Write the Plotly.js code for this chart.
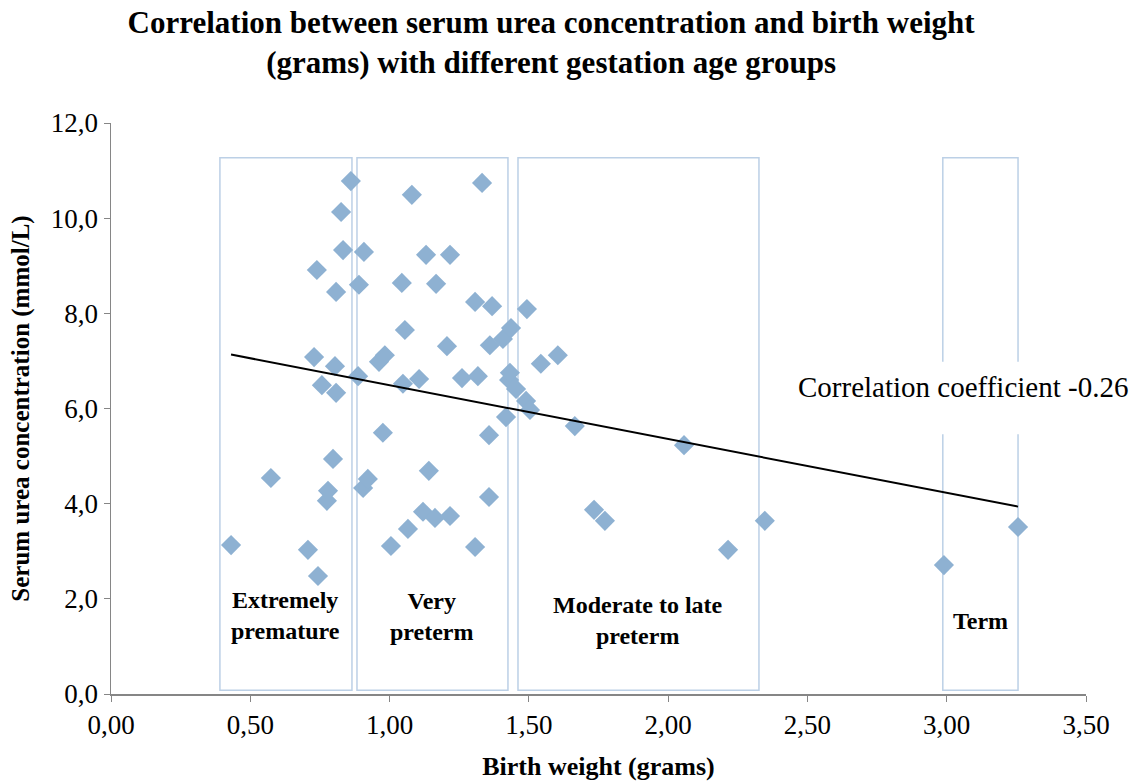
<!DOCTYPE html>
<html>
<head>
<meta charset="utf-8">
<script src="https://cdn.plot.ly/plotly-3.0.1.min.js"></script>
<style>html,body{margin:0;padding:0;background:#fff;}#chart{width:1141px;height:783px;}</style>
</head>
<body>
<div id="chart"></div>
<script>
// Birth weight (x) and serum urea (y)
const birthWeight = [0.431,0.574,0.707,0.743,0.739,0.729,0.757,0.775,0.779,0.797,0.808,0.808,0.804,0.826,0.833,0.861,0.887,0.890,0.908,0.905,0.922,0.962,0.983,0.976,1.005,1.048,1.044,1.055,1.066,1.080,1.106,1.120,1.131,1.141,1.163,1.167,1.206,1.217,1.217,1.260,1.307,1.307,1.317,1.332,1.357,1.360,1.357,1.368,1.407,1.418,1.429,1.432,1.436,1.454,1.490,1.493,1.504,1.543,1.604,1.665,1.734,1.773,2.057,2.215,2.347,2.990,3.256];
const serumUrea = [3.13,4.54,3.03,2.48,8.91,7.08,6.49,4.06,4.27,4.94,8.45,6.33,6.89,10.13,9.33,10.78,6.68,8.60,9.29,4.33,4.52,6.98,7.12,5.49,3.11,6.52,8.64,7.65,3.47,10.49,6.62,3.83,9.23,4.69,3.70,8.62,7.31,3.74,9.23,6.64,3.09,8.24,6.68,10.74,5.44,7.33,4.14,8.15,7.46,5.82,6.60,6.75,7.69,6.41,6.16,8.09,5.97,6.94,7.12,5.63,3.87,3.64,5.23,3.03,3.64,2.71,3.51];

// Gestation age groups (birth-weight ranges of the boxes)
const groupLabels = ["Extremely<br>premature","Very<br>preterm","Moderate to late<br>preterm","Term"];
const groupStart = [0.391,0.883,1.461,2.986];
const groupEnd   = [0.865,1.425,2.326,3.256];
const groupTop = 11.27, groupBottom = 0.08;

const xTicks = [0,0.5,1,1.5,2,2.5,3,3.5];
const yTicks = [0,2,4,6,8,10,12];
const corrText = "Correlation coefficient -0.26";

// linear trend (least squares)
const n = birthWeight.length;
const mx = birthWeight.reduce((a,b)=>a+b,0)/n;
const my = serumUrea.reduce((a,b)=>a+b,0)/n;
let sxy=0,sxx=0;
for(let i=0;i<n;i++){sxy+=(birthWeight[i]-mx)*(serumUrea[i]-my);sxx+=(birthWeight[i]-mx)**2;}
const slope=sxy/sxx, icpt=my-slope*mx;
const xmin=Math.min(...birthWeight), xmax=Math.max(...birthWeight);

const serif = "Liberation Serif, Times New Roman, serif";

const traces = [
  {x:birthWeight, y:serumUrea, type:'scatter', mode:'markers',
   marker:{symbol:'diamond', size:15.5, color:'#8EB1D2'}, hoverinfo:'x+y', cliponaxis:false},
  {x:[xmin,xmax], y:[icpt+slope*xmin, icpt+slope*xmax], type:'scatter', mode:'lines',
   line:{color:'#000', width:2}, hoverinfo:'skip'}
];

const shapes = groupStart.map((s,i)=>({type:'rect', xref:'x', yref:'y', x0:s, x1:groupEnd[i], y0:groupBottom, y1:groupTop,
  line:{color:'#BCD0E6', width:1.5}, fillcolor:'rgba(0,0,0,0)', layer:'below'}));
// white background of the correlation text box
shapes.push({type:'rect', xref:'x', yref:'y', x0:2.75, x1:3.45, y0:5.46, y1:6.98,
  line:{width:0}, fillcolor:'#fff', layer:'below'});

const labelY = [1.66,1.62,1.55,1.53];
const annotations = groupLabels.map((t,i)=>({x:(groupStart[i]+groupEnd[i])/2, y:labelY[i], xref:'x', yref:'y', text:'<b>'+t+'</b>',
  showarrow:false, font:{family:serif, size:24, color:'#000'}, align:'center'}));
annotations.push({x:3.06, y:6.45, xref:'x', yref:'y', text:corrText, showarrow:false,
  font:{family:serif, size:29, color:'#000'}});

const layout = {
  width:1141, height:783,
  margin:{l:111, r:55, t:123, b:89},
  paper_bgcolor:'#fff', plot_bgcolor:'#fff',
  separators:', ',
  showlegend:false,
  title:{text:'<b>Correlation between serum urea concentration and birth weight<br>(grams) with different gestation age groups</b>',
    font:{family:serif, size:31, color:'#000'}, x:0.483, xanchor:'center', y:0.958, yanchor:'top'},
  xaxis:{range:[0,3.5], tickvals:xTicks, tickformat:'.2f', showgrid:false, zeroline:false,
    showline:true, linecolor:'#868686', linewidth:1.5, ticks:'outside', ticklen:6, tickcolor:'#868686',
    tickfont:{family:serif, size:27, color:'#000'},
    title:{text:'<b>Birth weight (grams)</b>', font:{family:serif, size:26, color:'#000'}, standoff:18}},
  yaxis:{range:[0,12], tickvals:yTicks, tickformat:'.1f', showgrid:false, zeroline:false,
    showline:true, linecolor:'#868686', linewidth:1.5, ticks:'outside', ticklen:6, tickcolor:'#868686',
    tickfont:{family:serif, size:27, color:'#000'},
    title:{text:'<b>Serum urea concentration (mmol/L)</b>', font:{family:serif, size:25, color:'#000'}, standoff:14}},
  shapes:shapes, annotations:annotations
};

Plotly.newPlot('chart', traces, layout, {displayModeBar:false, staticPlot:true});
</script>
</body>
</html>
